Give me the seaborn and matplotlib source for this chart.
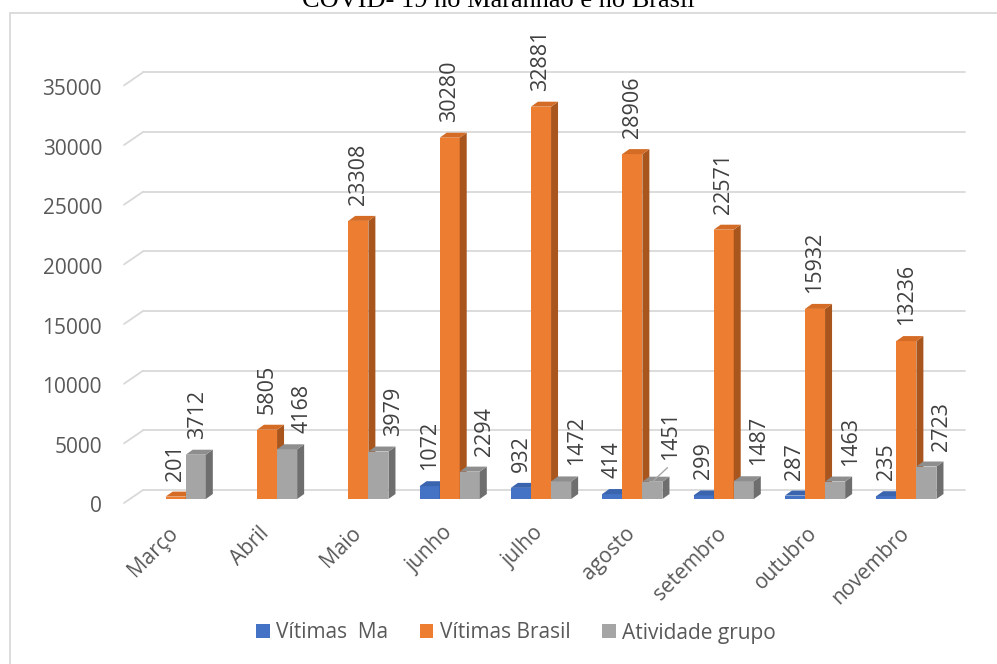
import numpy as np
import pandas as pd
import matplotlib
matplotlib.use("Agg")
import matplotlib.pyplot as plt
import seaborn as sns
from matplotlib.patches import Polygon, Rectangle, Patch
from matplotlib.lines import Line2D
from matplotlib.transforms import ScaledTranslation, IdentityTransform

# Data
meses = ["Março", "Abril", "Maio", "junho", "julho", "agosto",
         "setembro", "outubro", "novembro"]
vitimas_ma = [None, None, None, 1072, 932, 414, 299, 287, 235]
vitimas_brasil = [201, 5805, 23308, 30280, 32881, 28906, 22571, 15932, 13236]
atividade_grupo = [3712, 4168, 3979, 2294, 1472, 1451, 1487, 1463, 2723]
series = ["Vítimas  Ma", "Vítimas Brasil", "Atividade grupo"]
yticks = [0, 5000, 10000, 15000, 20000, 25000, 30000, 35000]

rows = []
for nome, vals in zip(series, [vitimas_ma, vitimas_brasil, atividade_grupo]):
    for m, v in zip(meses, vals):
        if v is not None:
            rows.append({"mes": m, "valor": v, "serie": nome})
df = pd.DataFrame(rows)

# colours: front, top, side
front = ["#4472C4", "#ED7D31", "#A5A5A5"]
top_c = ["#3B64AE", "#D46C26", "#8E8E8E"]
side_c = ["#2F5597", "#A9561E", "#6E6E6E"]

sns.set_style("white")
plt.rcParams["font.family"] = ["Open Sans", "DejaVu Sans"]

fig = plt.figure(figsize=(9.97, 6.64), dpi=100)
ax = fig.add_axes([130 / 997, 165 / 664, 822 / 997, 417.6 / 664])

sns.barplot(data=df, x="mes", y="valor", hue="serie", order=meses,
            hue_order=series, palette=front, width=0.66, dodge=True,
            saturation=1, legend=False, ax=ax, errorbar=None)
ax.set_xlim(-0.5, 8.5)
ax.set_ylim(0, 35000)
ax.axis("off")


def off(dx, dy):
    return ax.transData + ScaledTranslation(dx / 100, dy / 100, fig.dpi_scale_trans)


fig.canvas.draw()
grid_c = "#D9D9D9"
# back-wall gridlines with slanted floor part
for v in yticks:
    ax.plot([-0.5, 8.5], [v, v], color=grid_c, lw=1.3, transform=off(13, 9),
            zorder=0.5, clip_on=False)
    px = ax.transData.transform((-0.5, v))
    ax.add_line(Line2D([px[0] - 6, px[0] + 13], [px[1] - 4, px[1] + 9],
                       color=grid_c, lw=1.3, transform=IdentityTransform(),
                       zorder=0.5, clip_on=False))
    ax.text(-0.5, v, str(v), ha="right", va="center", fontsize=15,
            color="#595959", transform=off(-28, -8), clip_on=False)

# category labels
for i, m in enumerate(meses):
    ax.text(i, 0, m, rotation=45, ha="right", va="top", rotation_mode="anchor",
            fontsize=15, color="#595959", transform=off(-8, -24), clip_on=False)

# 3D faces and value labels
dep = (7, 5)
for k, (cont, vals) in enumerate(zip(ax.containers, [vitimas_ma, vitimas_brasil, atividade_grupo])):
    valid = [(m, v) for m, v in zip(meses, vals) if v is not None]
    for bar, (m, v) in zip(cont.patches, valid):
        bar.set_zorder(2 + k * 0.1)
        bar.set_edgecolor("none")
        x0, w, h = bar.get_x(), bar.get_width(), bar.get_height()
        p0 = ax.transData.transform((x0, 0))
        p1 = ax.transData.transform((x0 + w, h))
        X0, Y0, X1, Y1 = p0[0], p0[1], p1[0], p1[1]
        topf = [(X0, Y1), (X1, Y1), (X1 + dep[0], Y1 + dep[1]), (X0 + dep[0], Y1 + dep[1])]
        sidef = [(X1, Y0), (X1, Y1), (X1 + dep[0], Y1 + dep[1]), (X1 + dep[0], Y0 + dep[1])]
        for pts, col in [(sidef, side_c[k]), (topf, top_c[k])]:
            ax.add_patch(Polygon(pts, closed=True, facecolor=col, edgecolor="none",
                                 transform=IdentityTransform(), zorder=2 + k * 0.1,
                                 clip_on=False))
        cx = x0 + w / 2
        dx, dy = 0, 16
        if k == 2:
            # grey labels sit to the right so they clear the orange bar
            dx = 2 if m == "Março" else 15
        if k == 2 and m == "agosto":
            dx, dy = 18, 22
            ax.add_line(Line2D([(X0 + X1) / 2, (X0 + X1) / 2 + 15],
                               [Y1, Y1 + 14], color="#A6A6A6", lw=1,
                               transform=IdentityTransform(), zorder=3, clip_on=False))
        ax.text(cx, h, str(v), rotation=90, ha="center", va="bottom", fontsize=15.5,
                color="#404040", transform=off(dx, dy), zorder=5, clip_on=False)

# legend
handles = [Patch(facecolor=c, edgecolor="none") for c in front]
fig.legend(handles, series, loc="center", bbox_to_anchor=(516 / 997, 1 - 633 / 664),
           ncol=3, frameon=False, fontsize=15, handlelength=0.63, handleheight=0.63,
           handletextpad=0.3, columnspacing=1.55, labelcolor="#595959")

# title (partly cut at the top, as in the source) and outer border
fig.text(0.5, 657 / 664, "COVID- 19 no Maranhão e no Brasil", ha="center",
         va="baseline", fontsize=19, family="Liberation Serif", color="black")
fig.add_artist(Rectangle((10, -20), 1100, 651 + 20, fill=False, edgecolor="#D9D9D9",
                         lw=1.3, transform=IdentityTransform()))

fig.savefig("out.png", dpi=100)
